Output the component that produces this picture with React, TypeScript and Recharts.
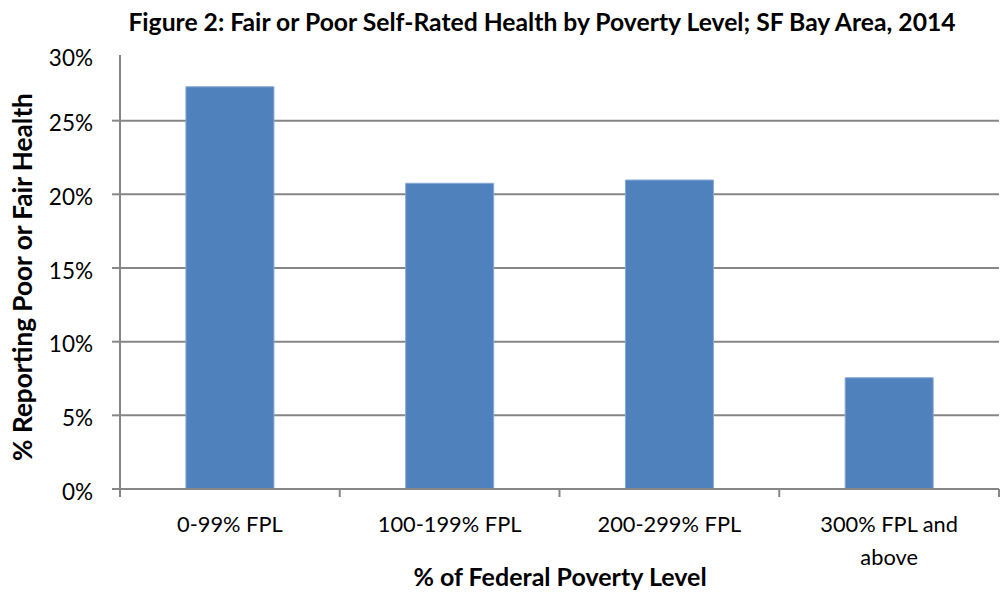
import React from 'react';
import { BarChart, Bar, XAxis, YAxis, CartesianGrid, Label } from 'recharts';

const categories = ['0-99% FPL', '100-199% FPL', '200-299% FPL', '300% FPL and above'];
const tickLines: string[][] = [['0-99% FPL'], ['100-199% FPL'], ['200-299% FPL'], ['300% FPL and', 'above']];
const values = [27.3, 20.75, 20.97, 7.55];
const yTicks = [0, 5, 10, 15, 20, 25, 30];
const gridTicks = [5, 10, 15, 20, 25];
const title = 'Figure 2: Fair or Poor Self-Rated Health by Poverty Level; SF Bay Area, 2014';
const yLabel = '% Reporting Poor or Fair Health';
const xLabel = '% of Federal Poverty Level';

const data = categories.map((c, i) => ({ name: c, value: values[i] }));

const FONT = 'Lato, "Open Sans", sans-serif';
const GRID = '#868686';
const W = 1008;
const H = 592;
const LEFT = 120;
const RIGHT = 999;
const TOP = 47;
const BOTTOM = 489;
const BAND = (RIGHT - LEFT) / categories.length;

const XTick = (props: any) => {
  const { x, payload, index } = props;
  const lines = tickLines[index] || [payload.value];
  const cx = x;
  return (
    <g>
      <line x1={cx - BAND / 2} x2={cx - BAND / 2} y1={BOTTOM} y2={BOTTOM + 8} stroke={GRID} strokeWidth={2} />
      {index === categories.length - 1 && (
        <line x1={cx + BAND / 2} x2={cx + BAND / 2} y1={BOTTOM} y2={BOTTOM + 8} stroke={GRID} strokeWidth={2} />
      )}
      {lines.map((l, i) => (
        <text key={i} x={cx} y={BOTTOM + 43 + i * 33} textAnchor="middle" fontFamily={FONT} fontSize={21.8} fill="#000">
          {l}
        </text>
      ))}
    </g>
  );
};

const YTick = (props: any) => {
  const { y, payload } = props;
  const v = payload.value;
  const top = v === 30;
  const ty = top ? y + 8 : y;
  return (
    <g>
      {!top && <line x1={LEFT - 8} x2={LEFT} y1={y} y2={y} stroke={GRID} strokeWidth={2} />}
      {v === 0 && <line x1={LEFT} x2={LEFT} y1={BOTTOM + 8} y2={TOP + 8} stroke={GRID} strokeWidth={2} />}
      <text x={93} y={ty + 2} textAnchor="end" dominantBaseline="central" fontFamily={FONT} fontSize={22.5} fill="#000">
        {v + '%'}
      </text>
    </g>
  );
};

export default function App() {
  return (
    <div style={{ position: 'absolute', left: 0, top: 0, width: W, height: H, background: '#fff' }}>
      <div
        style={{
          position: 'absolute',
          left: 0,
          top: 6,
          width: 1084,
          textAlign: 'center',
          fontFamily: FONT,
          fontWeight: 'bold',
          fontSize: 24.7,
          lineHeight: '32px',
          color: '#000',
          whiteSpace: 'nowrap',
        }}
      >
        {title}
      </div>
      <BarChart
        width={W}
        height={H}
        data={data}
        margin={{ top: TOP, right: W - RIGHT, bottom: 0, left: 0 }}
        barCategoryGap="30%"
      >
        <CartesianGrid
          vertical={false}
          stroke={GRID}
          strokeWidth={2}
          horizontalCoordinatesGenerator={(p: any) => {
            const off = p.offset || { top: TOP, height: BOTTOM - TOP };
            return gridTicks.map((v) => off.top + off.height * (1 - v / 30));
          }}
        />
        <XAxis
          dataKey="name"
          height={H - BOTTOM}
          axisLine={{ stroke: GRID, strokeWidth: 2 }}
          tickLine={false}
          tickSize={0}
          tickMargin={0}
          interval={0}
          tick={<XTick />}
        >
          <Label
            content={() => (
              <text x={560} y={586} textAnchor="middle" fontFamily={FONT} fontWeight="bold" fontSize={25} fill="#000">
                {xLabel}
              </text>
            )}
          />
        </XAxis>
        <YAxis
          width={LEFT}
          domain={[0, 30]}
          ticks={yTicks}
          interval={0}
          axisLine={false}
          tickLine={false}
          tick={<YTick />}
        >
          <Label
            content={() => (
              <text
                x={32}
                y={277}
                transform="rotate(-90 32 277)"
                textAnchor="middle"
                fontFamily={FONT}
                fontWeight="bold"
                fontSize={26.2}
                fill="#000"
              >
                {yLabel}
              </text>
            )}
          />
        </YAxis>
        <Bar dataKey="value" fill="#4F81BD" stroke="#86A8D4" strokeWidth={1} isAnimationActive={false} />
      </BarChart>
    </div>
  );
}
